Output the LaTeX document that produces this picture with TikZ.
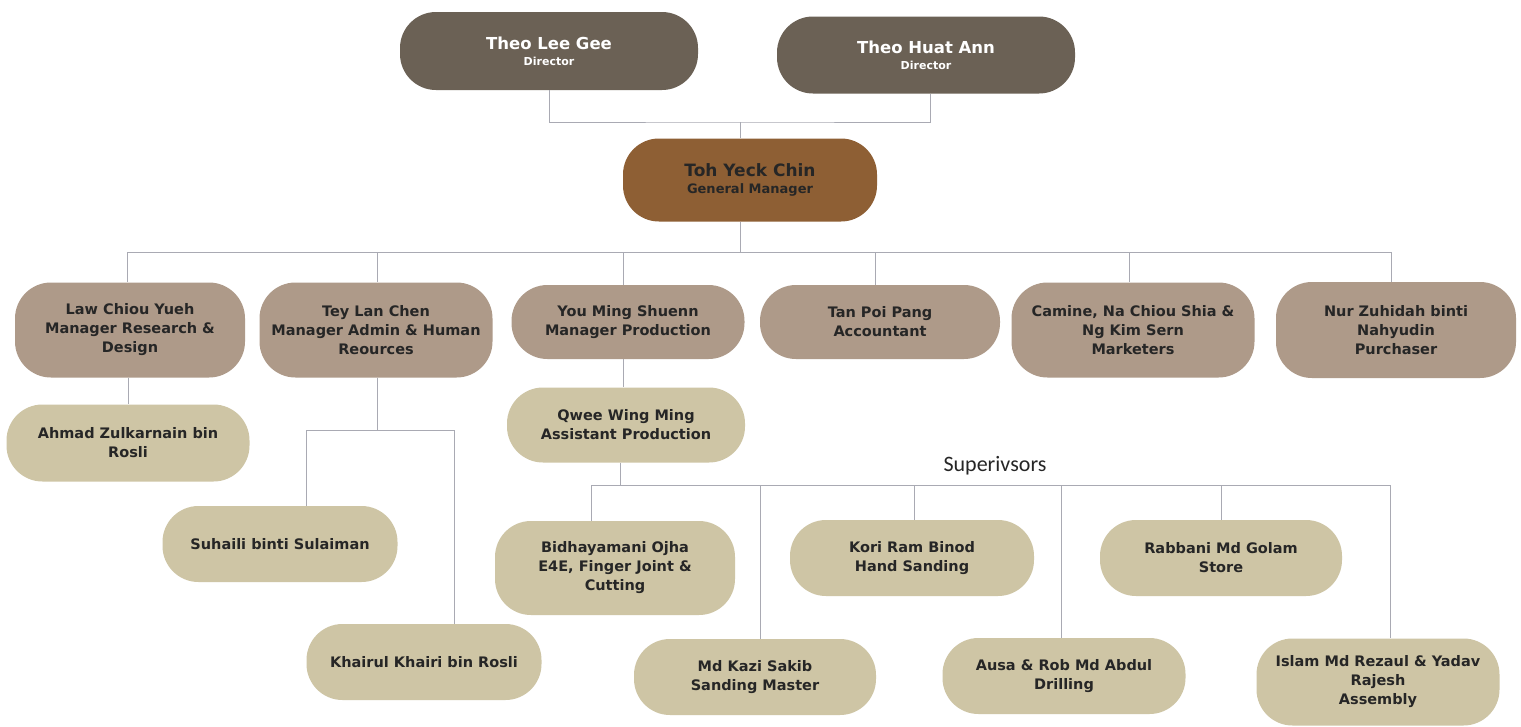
\documentclass[tikz,border=0pt]{standalone}
\usepackage{fontspec}
\setmainfont{DejaVu Sans}
\newfontfamily\carl{Carlito}
\definecolor{dircol}{HTML}{6B6155}
\definecolor{gmcol}{HTML}{8E5F34}
\definecolor{mgrcol}{HTML}{AE9A89}
\definecolor{stcol}{HTML}{CEC5A5}
\definecolor{txt}{HTML}{262626}
\definecolor{linecol}{HTML}{A9AAB3}
\begin{document}
\begin{tikzpicture}[x=1pt,y=-1pt,
 box/.style={rectangle, rounded corners=36pt, align=center, font=\bfseries\fontsize{14.5}{19}\selectfont, text=txt, inner sep=2pt},
 dirbox/.style={box, fill=dircol, text=white},
 gmbox/.style={box, fill=gmcol},
 mgrbox/.style={box, fill=mgrcol},
 stbox/.style={box, fill=stcol},
 conn/.style={draw=linecol, line width=0.9pt}]
\useasboundingbox[fill=white] (0,0) rectangle (1521,726);

% directors and GM
\node[dirbox, minimum width=298pt, minimum height=78pt] (lee) at (549,51) {{\fontsize{16.5}{18}\selectfont Theo Lee Gee}\\[-3pt]{\fontsize{11}{13}\selectfont Director}};
\node[dirbox, minimum width=298pt, minimum height=77pt] (huat) at (926,55) {{\fontsize{16.5}{18}\selectfont Theo Huat Ann}\\[-3pt]{\fontsize{11}{13}\selectfont Director}};
\node[gmbox, minimum width=254pt, minimum height=83pt] (gm) at (750,180) {{\fontsize{17}{19}\selectfont Toh Yeck Chin}\\[-2pt]{\fontsize{13}{15}\selectfont General Manager}};

% managers
\node[mgrbox, minimum width=230pt, minimum height=95pt] (law) at (130,330) {Law Chiou Yueh\\Manager Research \&\\Design};
\node[mgrbox, minimum width=233pt, minimum height=95pt] (tey) at (376,330) {Tey Lan Chen\\Manager Admin \& Human\\Reources};
\node[mgrbox, minimum width=233pt, minimum height=74pt] (you) at (628,322) {You Ming Shuenn\\Manager Production};
\node[mgrbox, minimum width=240pt, minimum height=74pt] (tan) at (880,322) {Tan Poi Pang\\Accountant};
\node[mgrbox, minimum width=243pt, minimum height=95pt] (cam) at (1133,330) {Camine, Na Chiou Shia \&\\Ng Kim Sern\\Marketers};
\node[mgrbox, minimum width=240pt, minimum height=96pt] (nur) at (1396,330) {Nur Zuhidah binti\\Nahyudin\\Purchaser};

% staff
\node[stbox, minimum width=243pt, minimum height=77pt] (ahmad) at (128,443) {Ahmad Zulkarnain bin\\Rosli};
\node[stbox, minimum width=235pt, minimum height=76pt] (suh) at (280,544) {Suhaili binti Sulaiman};
\node[stbox, minimum width=235pt, minimum height=76pt] (kha) at (424,662) {Khairul Khairi bin Rosli};
\node[stbox, minimum width=238pt, minimum height=75pt] (qwee) at (626,425) {Qwee Wing Ming\\Assistant Production};
\node[stbox, minimum width=240pt, minimum height=94pt] (bid) at (615,568) {Bidhayamani Ojha\\E4E, Finger Joint \&\\Cutting};
\node[stbox, minimum width=242pt, minimum height=76pt] (kazi) at (755,677) {Md Kazi Sakib\\Sanding Master};
\node[stbox, minimum width=244pt, minimum height=76pt] (kori) at (912,558) {Kori Ram Binod\\Hand Sanding};
\node[stbox, minimum width=243pt, minimum height=76pt] (ausa) at (1064,676) {Ausa \& Rob Md Abdul\\Drilling};
\node[stbox, minimum width=242pt, minimum height=76pt] (rab) at (1221,558) {Rabbani Md Golam\\Store};
\node[stbox, minimum width=243pt, minimum height=87pt] (isl) at (1378,682) {Islam Md Rezaul \& Yadav\\Rajesh\\Assembly};

\node[font=\carl\fontsize{22}{24}\selectfont, text=txt] (sup) at (995,466) {Superivsors};

% junction points
\coordinate (dj) at (740,122);
\coordinate (mb) at (740,252);
\coordinate (tj) at (377,430);
\coordinate (sj) at (620,485);

% connectors
\draw[conn] (lee.south) |- (dj) -| ([xshift=4pt]huat.south);
\draw[conn] (dj) -- (dj |- gm.north);
\draw[conn] (mb |- gm.south) -- (mb);
\foreach \n/\s in {law/-3, tey/1, you/-5, tan/-5, cam/-4, nur/-5}
  \draw[conn] (mb) -| ([xshift=\s pt]\n.north);
\draw[conn] ([xshift=-2pt]law.south) -- ([xshift=-2pt]law.south |- ahmad.north);
\draw[conn] ([xshift=1pt]tey.south) -- (tj);
\draw[conn] (tj) -| ([xshift=26pt]suh.north);
\draw[conn] (tj) -| ([xshift=30pt]kha.north);
\draw[conn] ([xshift=-5pt]you.south) -- ([xshift=-5pt]you.south |- qwee.north);
\draw[conn] (qwee.south -| sj) -- (sj);
\foreach \n/\s in {bid/-24, kazi/5, kori/2, ausa/-3, rab/0, isl/12}
  \draw[conn] (sj) -| ([xshift=\s pt]\n.north);
\end{tikzpicture}
\end{document}
